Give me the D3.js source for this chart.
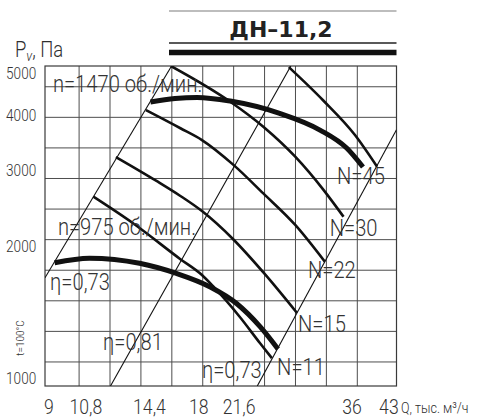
<!DOCTYPE html>
<html>
<head>
<meta charset="utf-8">
<script src="https://cdn.jsdelivr.net/npm/d3@7"></script>
<style>
  body { margin: 0; background: #fff; }
  svg text { font-family: Roboto, "Liberation Sans", sans-serif; font-weight: 300; fill: #2e2e2e; }
</style>
</head>
<body>
<script>
//tick labels of both axes
var qTicks = [9, 10.8, 14.4, 18, 21.6, 36, 43];
var pTicks = [1000, 2000, 3000, 4000, 5000];

//fan curves, Q in thousand m3/h, P in Pa
var q1470 = [14.5, 16.2, 17.9, 20.8, 26.0, 31.2, 35.2, 37.9];
var p1470 = [4285, 4365, 4390, 4305, 4035, 3695, 3360, 3040];
var q975 = [9.4, 11.0, 13.8, 16.3, 19.0, 21.4, 23.8, 25.8];
var p975 = [1835, 1880, 1830, 1735, 1615, 1480, 1310, 1165];

//curves ending at the N= marks
var qN45 = [27.1, 31.6, 36.55, 40.4];
var pN45 = [5150, 4330, 3600, 3045];
var qN30 = [15.9, 20.8, 24.15, 27.9, 31.7, 34.7];
var pN30 = [5180, 4290, 3760, 3210, 2695, 2340];
var qN22 = [14.2, 16.6, 18.3, 21.1, 24.15, 27.9, 31.9];
var pN22 = [4105, 3730, 3505, 3075, 2645, 2240, 1845];
var qN15 = [12.4, 14.9, 16.6, 18.3, 21.05, 24.3, 28.1];
var pN15 = [3205, 2825, 2610, 2410, 2080, 1730, 1410];
var qN11 = [11.2, 13.4, 16.6, 18.3, 19.3, 21.7, 23.8, 25.1];
var pN11 = [2600, 2260, 1870, 1720, 1615, 1380, 1200, 1110];

//efficiency lines (end points)
var qEtaLeft = [9, 15.95];
var pEtaLeft = [1695, 5180];
var qEtaMid = [12.1, 27.35];
var pEtaMid = [958, 5180];
var qEtaRight = [23.5, 44.1];
var pEtaRight = [958, 3700];

//annotations, anchored in data units (text start, baseline)
var noteText = ["n=1470 об./мин.", "n=975 об./мин.", "η=0,73", "η=0,81", "η=0,73", "N=45", "N=30", "N=22", "N=15", "N=11"];
var noteQ = [9.33, 9.54, 9.21, 11.7, 18.3, 33.7, 32.6, 29.55, 28.25, 25.7];
var noteP = [4516, 2124, 1590, 1158, 997, 2780, 2113, 1689, 1275, 1015];

var zip = function(qs, ps){ return qs.map(function(q, i){ return [q, ps[i]]; }); };

var W = 478, H = 418;
var margin = {top: 66, right: 81.5, bottom: 32, left: 45};
var width = W - margin.left - margin.right,
    height = H - margin.top - margin.bottom;
var narrow = 0.84; //the catalogue uses a condensed face

var svg = d3.select("body").append("svg")
  .attr("width", W)
  .attr("height", H);

//header bars and title
var head = svg.append("g");
head.append("line").attr("x1", 169).attr("x2", 396.5).attr("y1", 11).attr("y2", 11)
  .attr("stroke", "#bdbdbd").attr("stroke-width", 2);
head.append("text").attr("x", 281).attr("y", 37).attr("text-anchor", "middle")
  .style("font-family", "'DejaVu Sans', sans-serif").style("font-weight", "bold").style("font-size", "22px")
  .style("fill", "#222").text("ДН–11,2");
head.append("line").attr("x1", 169).attr("x2", 396.5).attr("y1", 43).attr("y2", 43)
  .attr("stroke", "#222").attr("stroke-width", 1.6);
head.append("line").attr("x1", 169).attr("x2", 396.5).attr("y1", 52.5).attr("y2", 52.5)
  .attr("stroke", "#111").attr("stroke-width", 5.5);

//axis title
var yt = svg.append("text").attr("transform", "translate(15,57) scale(" + narrow + ",1)")
  .style("font-size", "22px");
yt.append("tspan").text("P");
yt.append("tspan").attr("dy", 4).style("font-size", "15px").style("font-style", "italic").text("ν");
yt.append("tspan").attr("dy", -4).text(", Па");

var g = svg.append("g").attr("transform", "translate(" + margin.left + "," + margin.top + ")");

var x = d3.scaleLog().domain([9, 44.1]).range([0, width]);
var y = d3.scaleLog().domain([958, 5180]).range([height, 0]);

//log paper grid
var xGrid = d3.range(10).map(function(i){ return 10.5 * Math.pow(1.15, i); });
var yGrid = d3.range(10).map(function(i){ return 1087.5 * Math.pow(1.175, i); });

g.append("g").selectAll("line").data(xGrid).enter().append("line")
  .attr("x1", function(d){ return x(d); }).attr("x2", function(d){ return x(d); })
  .attr("y1", 0).attr("y2", height)
  .attr("stroke", "#4d4d4d").attr("stroke-width", 1);
g.append("g").selectAll("line").data(yGrid).enter().append("line")
  .attr("y1", function(d){ return y(d); }).attr("y2", function(d){ return y(d); })
  .attr("x1", 0).attr("x2", width)
  .attr("stroke", "#4d4d4d").attr("stroke-width", 1);
g.append("rect").attr("width", width).attr("height", height)
  .attr("fill", "none").attr("stroke", "#3a3a3a").attr("stroke-width", 1.2);

//axes
var yAxis = d3.axisLeft(y).tickValues(pTicks).tickFormat(d3.format("d")).tickSize(0).tickPadding(11);
var ya = g.append("g").call(yAxis);
ya.select(".domain").remove();
ya.selectAll("text").style("font-size", "17px").style("font-family", null).style("fill", "#333")
  .attr("transform", "scale(0.8,1)");

var xAxis = d3.axisBottom(x).tickValues(qTicks)
  .tickFormat(function(d){ return String(d).replace(".", ","); })
  .tickSize(0).tickPadding(13);
var xa = g.append("g").attr("transform", "translate(0," + height + ")").call(xAxis);
xa.select(".domain").remove();
xa.selectAll("text").style("font-size", "21px").style("font-family", null).style("fill", "#333")
  .attr("transform", "scale(" + narrow + ",1)");
//the first label sits just inside the frame in the catalogue
xa.selectAll(".tick").filter(function(d){ return d === qTicks[0]; }).select("text").attr("dx", 4);
xa.selectAll(".tick").filter(function(d){ return d === qTicks[qTicks.length - 1]; }).select("text").attr("dx", -3);

svg.append("text").attr("transform", "translate(401,413) scale(" + narrow + ",1)")
  .style("font-size", "15px").text("Q, тыс. м³/ч");
svg.append("text").attr("transform", "translate(24,338) rotate(-90)")
  .attr("text-anchor", "middle").style("font-size", "10px").text("t=100°C");

//clip everything to the frame
svg.append("defs").append("clipPath").attr("id", "frame")
  .append("rect").attr("width", width).attr("height", height);
var plot = g.append("g").attr("clip-path", "url(#frame)");

var line = d3.line()
  .x(function(d){ return x(d[0]); })
  .y(function(d){ return y(d[1]); })
  .curve(d3.curveMonotoneX);
var straight = d3.line()
  .x(function(d){ return x(d[0]); })
  .y(function(d){ return y(d[1]); });

//efficiency lines
[zip(qEtaLeft, pEtaLeft), zip(qEtaMid, pEtaMid), zip(qEtaRight, pEtaRight)].forEach(function(d){
  plot.append("path").datum(d).attr("d", straight)
    .attr("fill", "none").attr("stroke", "#111").attr("stroke-width", 1.1);
});

//N= curves
[zip(qN45, pN45), zip(qN30, pN30), zip(qN22, pN22), zip(qN15, pN15), zip(qN11, pN11)].forEach(function(d){
  plot.append("path").datum(d).attr("d", line)
    .attr("fill", "none").attr("stroke", "#111").attr("stroke-width", 2.6);
});

//fan characteristics
[zip(q1470, p1470), zip(q975, p975)].forEach(function(d){
  plot.append("path").datum(d).attr("d", line)
    .attr("fill", "none").attr("stroke", "#111").attr("stroke-width", 5);
});

//annotations
g.append("g").selectAll("text").data(noteText).enter().append("text")
  .attr("transform", function(d, i){
    return "translate(" + x(noteQ[i]) + "," + y(noteP[i]) + ") scale(" + narrow + ",1)";
  })
  .style("font-size", "24px")
  .style("fill", "#333")
  .text(function(d){ return d; });
</script>
</body>
</html>
